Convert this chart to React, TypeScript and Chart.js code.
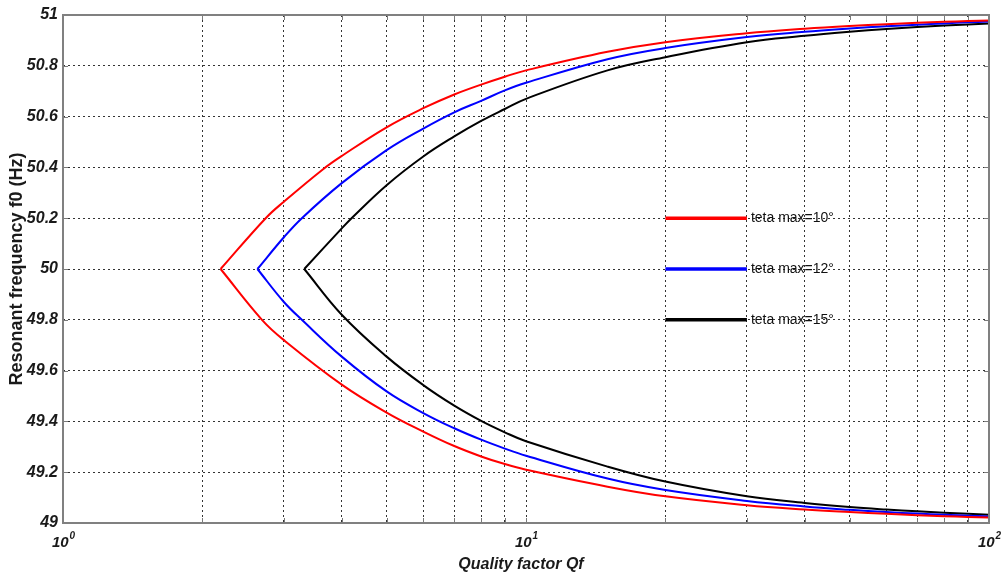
import React, { useEffect, useRef } from 'react';
import { Chart, registerables } from 'chart.js';

Chart.register(...registerables);

// ---- data ----
const xTickValues = [1, 2, 3, 4, 5, 6, 7, 8, 9, 10, 20, 30, 40, 50, 60, 70, 80, 90, 100];
const xDecadeValues = [1, 10, 100];
const xDecadeExponents = ['0', '1', '2'];

// teta max = 10 deg (red)
const qRedUpper = [2.19, 2.74, 3, 3.64, 4, 5, 6, 7, 8, 9, 10, 15, 20, 30, 40, 50, 60, 70, 80, 90, 100];
const fRedUpper = [50, 50.2, 50.265, 50.392, 50.445, 50.558, 50.633, 50.687, 50.726, 50.757, 50.782, 50.855, 50.893, 50.928, 50.946, 50.957, 50.964, 50.969, 50.973, 50.976, 50.978];
const qRedLower = [2.19, 2.69, 3, 4, 5, 6, 7, 8, 9, 10, 15, 20, 30, 40, 50, 60, 70, 80, 90, 100];
const fRedLower = [50, 49.8, 49.72, 49.545, 49.435, 49.36, 49.303, 49.262, 49.232, 49.21, 49.143, 49.105, 49.07, 49.053, 49.043, 49.036, 49.031, 49.027, 49.024, 49.022];

// teta max = 12 deg (blue)
const qBlueUpper = [2.63, 3, 3.28, 4, 5, 6, 7, 8, 9, 10, 15, 20, 30, 40, 50, 60, 70, 80, 90, 100];
const fBlueUpper = [50, 50.125, 50.2, 50.338, 50.468, 50.553, 50.617, 50.662, 50.703, 50.733, 50.826, 50.87, 50.913, 50.934, 50.947, 50.956, 50.962, 50.967, 50.971, 50.974];
const qBlueLower = [2.63, 3, 3.28, 4, 5, 6, 7, 8, 9, 10, 15, 20, 30, 40, 50, 60, 70, 80, 90, 100];
const fBlueLower = [50, 49.87, 49.8, 49.655, 49.518, 49.433, 49.373, 49.328, 49.293, 49.265, 49.175, 49.13, 49.087, 49.065, 49.052, 49.043, 49.037, 49.032, 49.029, 49.026];

// teta max = 15 deg (black)
const qBlackUpper = [3.32, 4, 4.2, 5, 6, 7, 8, 9, 10, 15, 20, 30, 40, 50, 60, 70, 80, 90, 100];
const fBlackUpper = [50, 50.16, 50.2, 50.33, 50.443, 50.522, 50.583, 50.63, 50.67, 50.782, 50.834, 50.893, 50.918, 50.934, 50.945, 50.953, 50.959, 50.963, 50.967];
const qBlackLower = [3.32, 4, 5, 6, 7, 8, 9, 10, 15, 20, 30, 40, 50, 60, 70, 80, 90, 100];
const fBlackLower = [50, 49.82, 49.655, 49.543, 49.462, 49.402, 49.357, 49.322, 49.222, 49.163, 49.105, 49.079, 49.063, 49.053, 49.046, 49.04, 49.036, 49.032];

const legendLabels = ['teta max=10°', 'teta max=12°', 'teta max=15°'];
const legendColors = ['#ff0000', '#0000ff', '#000000'];
const legendYValues = [50.2, 50, 49.8];
const legendXRange = [20, 30];

const xTitle = 'Quality factor Qf';
const yTitle = 'Resonant frequency f0 (Hz)';

const toPoints = (q: number[], f: number[]) => q.map((x, i) => ({ x, y: f[i] }));

const overlayPlugin = {
  id: 'overlay',
  afterDraw(chart: any) {
    const { ctx, chartArea: a, scales } = chart;
    const xs = scales.x;
    const ys = scales.y;
    ctx.save();
    // inner tick marks
    ctx.strokeStyle = '#7a7a7a';
    ctx.lineWidth = 1;
    ctx.setLineDash([]);
    xTickValues.forEach((v) => {
      const px = Math.round(xs.getPixelForValue(v)) + 0.5;
      ctx.beginPath();
      ctx.moveTo(px, a.bottom);
      ctx.lineTo(px, a.bottom - 5);
      ctx.moveTo(px, a.top);
      ctx.lineTo(px, a.top + 5);
      ctx.stroke();
    });
    ys.ticks.forEach((t: any) => {
      const py = Math.round(ys.getPixelForValue(t.value)) + 0.5;
      ctx.beginPath();
      ctx.moveTo(a.left, py);
      ctx.lineTo(a.left + 5, py);
      ctx.moveTo(a.right, py);
      ctx.lineTo(a.right - 5, py);
      ctx.stroke();
    });
    // box
    ctx.strokeStyle = '#808080';
    ctx.lineWidth = 2;
    ctx.strokeRect(a.left, a.top, a.right - a.left, a.bottom - a.top);

    // x decade labels 10^n
    ctx.fillStyle = '#1a1a1a';
    ctx.textAlign = 'left';
    ctx.textBaseline = 'alphabetic';
    xDecadeValues.forEach((v, i) => {
      const px = xs.getPixelForValue(v);
      ctx.font = 'italic bold 15px Arial';
      const w1 = ctx.measureText('10').width;
      ctx.font = 'italic bold 10px Arial';
      const w2 = ctx.measureText(xDecadeExponents[i]).width;
      const start = px - (w1 + w2) / 2;
      ctx.font = 'italic bold 15px Arial';
      ctx.fillText('10', start, a.bottom + 24);
      ctx.font = 'italic bold 10px Arial';
      ctx.fillText(xDecadeExponents[i], start + w1 + 1, a.bottom + 16);
    });

    // x title
    ctx.font = 'italic bold 16px Arial';
    ctx.textAlign = 'center';
    ctx.fillText(xTitle, 521, a.bottom + 46);

    // y title
    ctx.save();
    ctx.translate(17, (a.top + a.bottom) / 2);
    ctx.rotate(-Math.PI / 2);
    ctx.font = 'bold 18px Arial';
    ctx.textAlign = 'center';
    ctx.textBaseline = 'middle';
    ctx.fillText(yTitle, 0, 0);
    ctx.restore();

    // legend
    const lx1 = xs.getPixelForValue(legendXRange[0]);
    const lx2 = xs.getPixelForValue(legendXRange[1]);
    legendLabels.forEach((label, i) => {
      const py = ys.getPixelForValue(legendYValues[i]);
      ctx.strokeStyle = legendColors[i];
      ctx.lineWidth = 3.5;
      ctx.beginPath();
      ctx.moveTo(lx1, py);
      ctx.lineTo(lx2, py);
      ctx.stroke();
      ctx.fillStyle = '#111111';
      ctx.font = '14px Arial';
      ctx.textAlign = 'left';
      ctx.textBaseline = 'middle';
      ctx.fillText(label, lx2 + 4, py);
    });
    ctx.restore();
  },
};

export default function App() {
  const canvasRef = useRef<HTMLCanvasElement | null>(null);

  useEffect(() => {
    const canvas = canvasRef.current;
    if (!canvas) return;
    const mk = (q: number[], f: number[], color: string) => ({
      data: toPoints(q, f),
      borderColor: color,
      backgroundColor: color,
      borderWidth: 2,
      pointRadius: 0,
      showLine: true,
      fill: false,
      tension: 0.4,
    });
    const chart = new Chart(canvas, {
      type: 'scatter',
      data: {
        datasets: [
          mk(qRedUpper, fRedUpper, legendColors[0]),
          mk(qRedLower, fRedLower, legendColors[0]),
          mk(qBlueUpper, fBlueUpper, legendColors[1]),
          mk(qBlueLower, fBlueLower, legendColors[1]),
          mk(qBlackUpper, fBlackUpper, legendColors[2]),
          mk(qBlackLower, fBlackLower, legendColors[2]),
        ],
      },
      options: {
        animation: false,
        responsive: false,
        devicePixelRatio: 1,
        layout: { padding: { top: 15, right: 12, left: 0, bottom: 0 } },
        plugins: { legend: { display: false }, tooltip: { enabled: false } },
        scales: {
          x: {
            type: 'logarithmic',
            min: 1,
            max: 100,
            afterBuildTicks: (scale: any) => {
              scale.ticks = xTickValues.map((v) => ({ value: v }));
            },
            afterFit: (scale: any) => {
              scale.height = 54;
            },
            ticks: { display: false },
            grid: { color: '#333333', lineWidth: 1, drawTicks: false },
            border: { display: false, dash: [2, 3] },
          },
          y: {
            min: 49,
            max: 51,
            afterFit: (scale: any) => {
              scale.width = 63;
            },
            ticks: {
              stepSize: 0.2,
              padding: 5,
              color: '#1a1a1a',
              font: { family: 'Arial', size: 16, weight: 'bold', style: 'italic' },
              callback: (v: any) => String(Math.round(Number(v) * 10) / 10),
            },
            grid: { color: '#333333', lineWidth: 1, drawTicks: false },
            border: { display: false, dash: [2, 3] },
          },
        },
      },
      plugins: [overlayPlugin],
    });
    return () => chart.destroy();
  }, []);

  return (
    <div style={{ position: 'absolute', left: 0, top: 0, width: 1001, height: 577, background: '#fff' }}>
      <canvas ref={canvasRef} width={1001} height={577} />
    </div>
  );
}
